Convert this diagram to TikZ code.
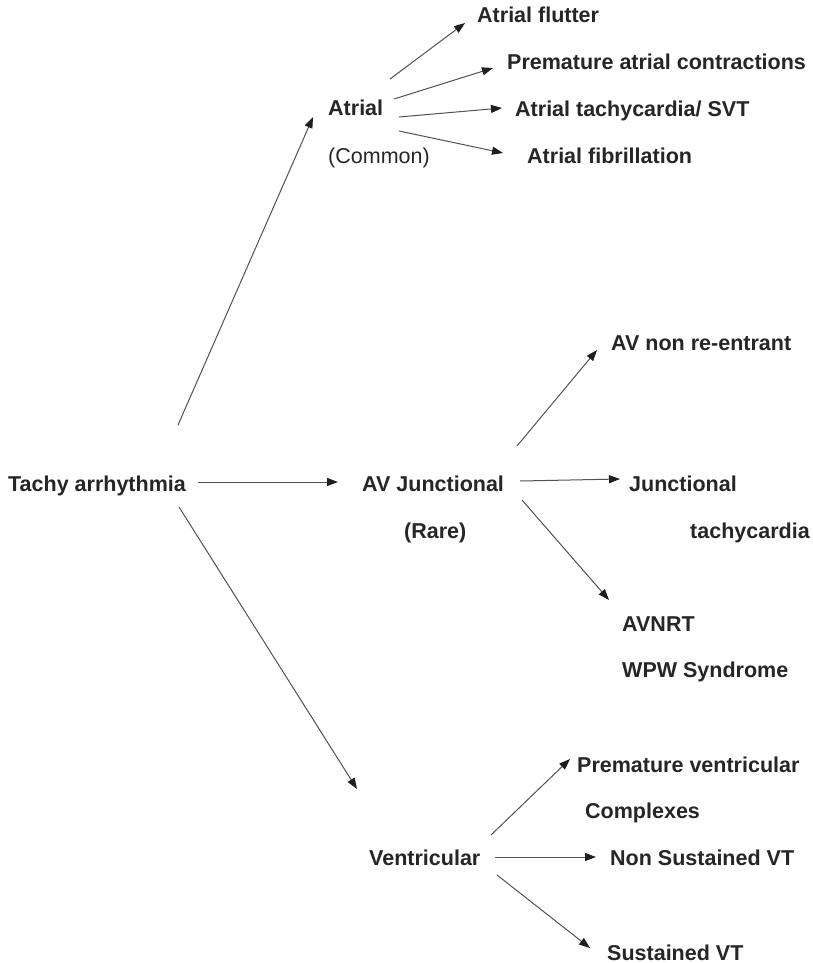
\documentclass[tikz,border=0pt]{standalone}
\usepackage{fontspec}
\setmainfont{Liberation Sans}
\usetikzlibrary{arrows.meta}
\begin{document}
\begin{tikzpicture}[x=1pt,y=-1pt,
  lbl/.style={anchor=base west,inner sep=0pt,font=\fontsize{21.5}{24}\selectfont\bfseries,text=black!85},
  lblr/.style={anchor=base west,inner sep=0pt,font=\fontsize{21.5}{24}\selectfont,text=black!85},
  arr/.style={draw=black!68,line width=1pt,-{Triangle[length=11pt,width=8pt,color=black!88]}}]
\useasboundingbox[fill=white] (0,0) rectangle (813,963);
% texts
\node[lbl]  (flutter) at (477,23)  {Atrial flutter};
\node[lbl]  (pac)     at (507,70)  {Premature atrial contractions};
\node[lbl]  (atrial)  at (328,116) {Atrial};
\node[lbl]  (svt)     at (515,117) {Atrial tachycardia/ SVT};
\node[lblr] (common)  at (328,163) {(Common)};
\node[lbl]  (af)      at (527,163) {Atrial fibrillation};
\node[lbl]  (avnr)    at (611,350) {AV non re-entrant};
\node[lbl]  (tachy)   at (8,491)   {Tachy arrhythmia};
\node[lbl]  (avj)     at (362,491) {AV Junctional};
\node[lbl]  (junc)    at (629,491) {Junctional};
\node[lbl]  (rare)    at (404,538) {(Rare)};
\node[lbl]  (jt)      at (690,538) {tachycardia};
\node[lbl]  (avnrt)   at (622,631) {AVNRT};
\node[lbl]  (wpw)     at (622,677) {WPW Syndrome};
\node[lbl]  (pvc)     at (577,772) {Premature ventricular};
\node[lbl]  (compl)   at (585,818) {Complexes};
\node[lbl]  (vent)    at (369,865) {Ventricular};
\node[lbl]  (nsvt)    at (610,865) {Non Sustained VT};
\node[lbl]  (susvt)   at (607,960) {Sustained VT};
% connector ends
\coordinate (tachy-a) at (178,425);
\coordinate (tachy-j) at (198,482);
\coordinate (tachy-v) at (179,507);
\coordinate (atrial-in) at (313,117);
\coordinate (avj-in) at (338,482);
\coordinate (vent-in) at (357,789);
\coordinate (atrial-1) at (390,79);
\coordinate (atrial-2) at (394,99);
\coordinate (atrial-3) at (399,117);
\coordinate (atrial-4) at (399,131);
\coordinate (flutter-in) at (465,23);
\coordinate (pac-in) at (493,68);
\coordinate (svt-in) at (502,108);
\coordinate (af-in) at (503,153);
\coordinate (avj-1) at (517,446);
\coordinate (avj-2) at (520,481);
\coordinate (avj-3) at (522,500);
\coordinate (avnr-in) at (597,350);
\coordinate (junc-in) at (620,479);
\coordinate (avnrt-in) at (609,600);
\coordinate (vent-1) at (491,835);
\coordinate (vent-2) at (495,857);
\coordinate (vent-3) at (497,875);
\coordinate (pvc-in) at (570,759);
\coordinate (nsvt-in) at (596,857);
\coordinate (susvt-in) at (590,948);
% connectors
\draw[arr] (tachy-a) -- (atrial-in);
\draw[arr] (tachy-j) -- (avj-in);
\draw[arr] (tachy-v) -- (vent-in);
\draw[arr] (atrial-1) -- (flutter-in);
\draw[arr] (atrial-2) -- (pac-in);
\draw[arr] (atrial-3) -- (svt-in);
\draw[arr] (atrial-4) -- (af-in);
\draw[arr] (avj-1) -- (avnr-in);
\draw[arr] (avj-2) -- (junc-in);
\draw[arr] (avj-3) -- (avnrt-in);
\draw[arr] (vent-1) -- (pvc-in);
\draw[arr] (vent-2) -- (nsvt-in);
\draw[arr] (vent-3) -- (susvt-in);
\end{tikzpicture}
\end{document}
